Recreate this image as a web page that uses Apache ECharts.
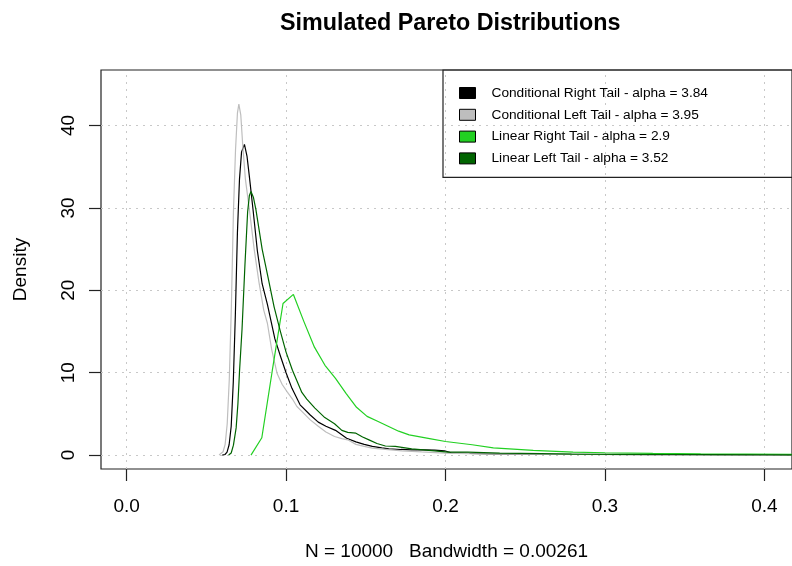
<!DOCTYPE html>
<html><head><meta charset="utf-8">
<script src="https://cdn.jsdelivr.net/npm/echarts@6/dist/echarts.min.js"></script>
<style>html,body{margin:0;padding:0;background:#fff}#c{width:792px;height:566px}</style>
</head><body><div id="c"></div>
<script>
const titleText = 'Simulated Pareto Distributions';
const xAxisTitle = 'N = 10000   Bandwidth = 0.00261';
const yAxisTitle = 'Density';
const xTicks = [0, 0.1, 0.2, 0.3, 0.4];
const yTicks = [0, 10, 20, 30, 40];
const seriesNames = [
  'Conditional Right Tail - alpha = 3.84',
  'Conditional Left Tail - alpha = 3.95',
  'Linear Right Tail - alpha = 2.9',
  'Linear Left Tail - alpha = 3.52'
];
const seriesColors = ['#000000', '#bebebe', '#22d022', '#006400'];

// [x, density]
const condRight = [[0.0600,0],[0.0617,0.07],[0.0630,0.35],[0.0643,1.25],[0.0656,3.5],[0.0669,8.8],[0.0682,17],[0.0695,27],[0.0708,33.5],[0.0721,36.8],[0.0739,37.7],[0.0755,36.3],[0.0770,33.8],[0.0794,29.6],[0.0820,24.8],[0.0850,20.8],[0.0883,18.3],[0.0930,14.1],[0.0965,12.0],[0.1000,10.0],[0.1037,8.1],[0.1088,6.1],[0.1150,4.9],[0.1202,4.0],[0.1250,3.5],[0.1310,3.0],[0.1380,2.05],[0.1438,1.6],[0.1490,1.3],[0.1541,1.05],[0.1600,0.88],[0.1644,0.76],[0.1720,0.68],[0.1788,0.64],[0.1860,0.62],[0.1932,0.6],[0.1994,0.52],[0.2035,0.28],[0.2150,0.2],[0.2300,0.15],[0.2500,0.12],[0.2700,0.1],[0.3000,0.07],[0.3300,0.05],[0.3600,0.04],[0.3900,0.03],[0.4200,0.02]];
const condLeft = [[0.0580,0],[0.0592,0.1],[0.0605,0.4],[0.0618,1.3],[0.0631,3.8],[0.0644,9.2],[0.0657,18],[0.0670,29.5],[0.0683,37],[0.0695,41.5],[0.0704,42.6],[0.0716,41.3],[0.0728,37.7],[0.0745,33.5],[0.0770,29.8],[0.0800,25],[0.0830,21],[0.0860,17.6],[0.0883,16.0],[0.0910,12.8],[0.0944,9.9],[0.0975,8.6],[0.1006,7.7],[0.1040,6.8],[0.1068,5.9],[0.1099,5.3],[0.1150,4.3],[0.1202,3.5],[0.1250,2.8],[0.1304,2.26],[0.1350,2.0],[0.1387,1.85],[0.1438,1.3],[0.1490,1.05],[0.1541,0.85],[0.1640,0.65],[0.1727,0.52],[0.1850,0.38],[0.1994,0.24],[0.2150,0.18],[0.2300,0.14],[0.2500,0.11],[0.2800,0.08],[0.3100,0.06],[0.3400,0.04],[0.3700,0.03],[0.4000,0.02],[0.4200,0.02]];
const linRight = [[0.0780,0],[0.0848,2.1],[0.0914,10.3],[0.0981,18.4],[0.1046,19.5],[0.1112,16.2],[0.1178,13.1],[0.1244,10.9],[0.1310,9.3],[0.1376,7.5],[0.1442,5.8],[0.1508,4.7],[0.1574,4.1],[0.1640,3.5],[0.1706,2.9],[0.1772,2.45],[0.1900,2.0],[0.2000,1.65],[0.2167,1.25],[0.2300,0.88],[0.2550,0.56],[0.2800,0.36],[0.3000,0.28],[0.3300,0.2],[0.3600,0.15],[0.3900,0.12],[0.4200,0.1]];
const linLeft = [[0.0640,0],[0.0656,0.25],[0.0670,1.2],[0.0687,3.3],[0.0698,6.2],[0.0708,10.1],[0.0724,15.3],[0.0742,23],[0.0759,29.5],[0.0770,31.5],[0.0780,32.0],[0.0795,31.3],[0.0811,29.8],[0.0850,25],[0.0889,21.4],[0.0925,18],[0.0963,15.1],[0.1000,12.5],[0.1040,10.3],[0.1099,7.6],[0.1130,6.8],[0.1181,5.7],[0.1243,4.55],[0.1304,3.8],[0.1350,3.0],[0.1387,2.75],[0.1438,2.66],[0.1480,2.2],[0.1520,1.85],[0.1570,1.4],[0.1623,1.1],[0.1685,1.05],[0.1788,0.76],[0.1932,0.52],[0.2015,0.36],[0.2139,0.36],[0.2340,0.24],[0.2600,0.18],[0.2790,0.12],[0.3100,0.09],[0.3400,0.07],[0.3700,0.05],[0.4000,0.04],[0.4200,0.03]];
const seriesData = [condRight, condLeft, linRight, linLeft];

const FONT = '"Liberation Sans", Arial, Helvetica, sans-serif';
const chart = echarts.init(document.getElementById('c'), null, {renderer: 'canvas'});

const gridLines = xTicks.map(v => ({xAxis: v})).concat(yTicks.map(v => ({yAxis: v})));

const series = seriesNames.map((name, i) => ({
  name: name,
  type: 'line',
  data: seriesData[i],
  symbol: 'none',
  showSymbol: false,
  color: seriesColors[i],
  lineStyle: {color: seriesColors[i], width: 1.2},
  z: 3 + i,
  silent: true,
  markLine: i === 0 ? {
    silent: true, symbol: 'none', label: {show: false}, animation: false,
    lineStyle: {color: '#c8c8c8', type: [2, 5], width: 1},
    emphasis: {disabled: true},
    z: 1,
    data: gridLines
  } : undefined
}));

chart.setOption({
  animation: false,
  backgroundColor: '#ffffff',
  title: {
    text: titleText, left: 280, top: 12, padding: 0,
    textStyle: {fontFamily: FONT, fontSize: 23.3, fontWeight: 'bold', color: '#000'}
  },
  grid: {
    left: 101, right: -11, top: 70, bottom: 95,
    show: true, borderColor: '#222', borderWidth: 1.2, backgroundColor: 'transparent'
  },
  xAxis: {
    type: 'value', min: -0.01605, max: 0.41728,
    name: xAxisTitle, nameLocation: 'middle', nameGap: 73, nameMoveOverlap: false,
    nameTextStyle: {fontFamily: FONT, fontSize: 19, color: '#000'},
    axisLine: {show: false, onZero: false},
    axisTick: {show: true, customValues: xTicks, length: 12, lineStyle: {color: '#222', width: 1.2}},
    axisLabel: {customValues: xTicks, formatter: v => v.toFixed(1), margin: 28,
      fontFamily: FONT, fontSize: 19, color: '#000'},
    splitLine: {show: false}
  },
  yAxis: {
    type: 'value', min: -1.69, max: 46.74,
    name: yAxisTitle, nameLocation: 'middle', nameGap: 71, nameRotate: 90, nameMoveOverlap: false,
    nameTextStyle: {fontFamily: FONT, fontSize: 19, color: '#000'},
    axisLine: {show: false, onZero: false},
    axisTick: {show: true, customValues: yTicks, length: 12, lineStyle: {color: '#222', width: 1.2}},
    axisLabel: {customValues: yTicks, rotate: 90, margin: 23,
      fontFamily: FONT, fontSize: 19, color: '#000'},
    splitLine: {show: false}
  },
  legend: {
    orient: 'vertical', left: 443, top: 70,
    padding: [16, 100, 12, 16],
    itemWidth: 16, itemHeight: 11, itemGap: 7.8,
    icon: 'rect', selectedMode: false,
    borderColor: '#222', borderWidth: 1.2,
    itemStyle: {borderColor: '#000', borderWidth: 1},
    textStyle: {fontFamily: FONT, fontSize: 13.7, color: '#000', lineHeight: 14, padding: [0, 0, 0, 11]},
    data: seriesNames
  },
  series: series
});
</script></body></html>
